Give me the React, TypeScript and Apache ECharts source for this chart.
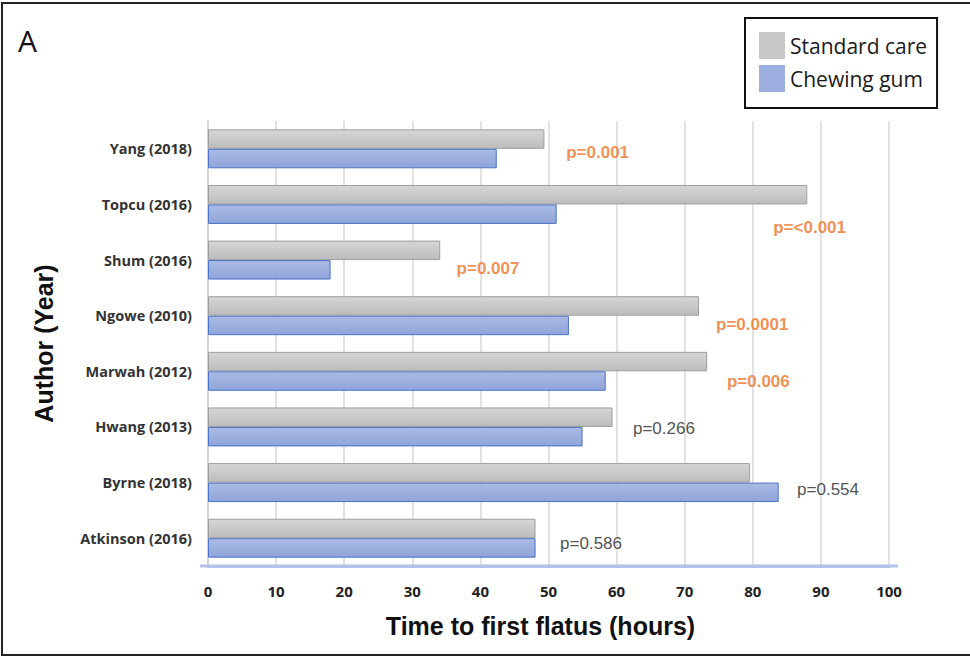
import React, { useEffect, useRef } from "react";
import * as echarts from "echarts";

const categories = [
  "Yang (2018)",
  "Topcu (2016)",
  "Shum (2016)",
  "Ngowe (2010)",
  "Marwah (2012)",
  "Hwang (2013)",
  "Byrne (2018)",
  "Atkinson (2016)",
];
const standardCare = [49.4, 88.0, 34.1, 72.1, 73.3, 59.4, 79.6, 48.1];
const chewingGum = [42.4, 51.2, 18.0, 53.0, 58.4, 55.0, 83.8, 48.1];
const pLabels = ["p=0.001", "p=<0.001", "p=0.007", "p=0.0001", "p=0.006", "p=0.266", "p=0.554", "p=0.586"];
const significant = [true, true, true, true, true, false, false, false];
// label anchor (x in hours) and vertical pixel offset — layout only
const labelX = [52.6, 83.0, 36.5, 74.6, 76.2, 62.4, 86.5, 51.7];
const labelDy = [4, 22.6, 8, 8.4, 10.5, 1.2, 6.6, 5];
const xTicks = [0, 10, 20, 30, 40, 50, 60, 70, 80, 90, 100];

const grayGrad = new echarts.graphic.LinearGradient(0, 0, 0, 1, [
  { offset: 0, color: "#d6d6d6" },
  { offset: 1, color: "#bcbcbc" },
]);
const blueGrad = new echarts.graphic.LinearGradient(0, 0, 0, 1, [
  { offset: 0, color: "#aabbe4" },
  { offset: 1, color: "#8fa4da" },
]);

export default function App() {
  const ref = useRef<HTMLDivElement>(null);
  useEffect(() => {
    if (!ref.current) return;
    const chart = echarts.init(ref.current, undefined, { renderer: "svg" });
    const option: any = {
      animation: false,
      backgroundColor: "#ffffff",
      textStyle: { fontFamily: "Open Sans" },
      title: {
        text: "A",
        left: 13,
        top: 20,
        textStyle: { fontSize: 30, fontWeight: "normal", color: "#111", fontFamily: "Open Sans" },
      },
      legend: {
        orient: "vertical",
        left: 745,
        top: 18,
        borderColor: "#111",
        borderWidth: 2,
        padding: [14, 10, 16, 14],
        itemWidth: 26,
        itemHeight: 27,
        itemGap: 6,
        textStyle: { fontSize: 21, color: "#1a1a1a", fontFamily: "Open Sans" },
        data: [
          { name: "Standard care", icon: "rect", itemStyle: { color: "#c8c8c8", borderWidth: 0 } },
          { name: "Chewing gum", icon: "rect", itemStyle: { color: "#9dafe0", borderWidth: 0 } },
        ],
      },
      graphic: [
        {
          type: "rect",
          shape: { x: 2, y: 3, width: 990, height: 652 },
          style: { fill: "none", stroke: "#222", lineWidth: 2 },
          silent: true,
        },
        {
          type: "line",
          shape: { x1: 200, y1: 566, x2: 898, y2: 566 },
          style: { stroke: "#b3c2e8", lineWidth: 3 },
          silent: true,
          z: 1,
        },
      ],
      grid: { left: 208, right: 81, top: 121, bottom: 91, containLabel: false },
      xAxis: {
        type: "value",
        min: 0,
        max: 100,
        interval: 10,
        name: "Time to first flatus (hours)",
        nameLocation: "middle",
        nameGap: 47,
        nameTextStyle: {
          fontSize: 25,
          fontWeight: "bold",
          color: "#111",
          fontFamily: "Liberation Sans",
          padding: [0, 16, 0, 0],
        },
        axisLine: { show: true, lineStyle: { color: "#b3c2e8", width: 3 } },
        axisTick: { show: false },
        axisLabel: {
          margin: 17,
          fontSize: 15,
          fontWeight: "bold",
          color: "#222",
          formatter: (v: number) => (xTicks.includes(v) ? String(v) : ""),
        },
        splitLine: { show: true, lineStyle: { color: "#d9d9d9", width: 1.5 } },
      },
      yAxis: {
        type: "category",
        data: categories,
        inverse: true,
        name: "Author (Year)",
        nameLocation: "middle",
        nameGap: 152,
        nameRotate: 90,
        nameTextStyle: { fontSize: 25, fontWeight: "bold", color: "#111", fontFamily: "Liberation Sans" },
        axisLine: { show: true, lineStyle: { color: "#d0d0d0", width: 1.5 } },
        axisTick: { show: false },
        axisLabel: { margin: 16, fontSize: 14.5, fontWeight: "bold", color: "#333" },
        splitLine: { show: false },
      },
      series: [
        {
          name: "Standard care",
          type: "bar",
          data: standardCare,
          barGap: "0%",
          barCategoryGap: "30%",
          itemStyle: { color: grayGrad, borderColor: "#9e9e9e", borderWidth: 1 },
        },
        {
          name: "Chewing gum",
          type: "bar",
          data: chewingGum,
          barGap: "0%",
          barCategoryGap: "30%",
          itemStyle: { color: blueGrad, borderColor: "#4a73c6", borderWidth: 1 },
        },
        {
          name: "p-values",
          type: "scatter",
          symbolSize: 0,
          silent: true,
          data: categories.map((c, i) => ({
            value: [labelX[i], i],
            label: {
              show: true,
              position: "right",
              distance: 0,
              offset: [0, labelDy[i]],
              formatter: pLabels[i],
              fontSize: 17,
              fontFamily: "Liberation Sans",
              fontWeight: significant[i] ? "bold" : "normal",
              color: significant[i] ? "#ec7428" : "#222",
            },
          })),
        },
      ],
    };
    chart.setOption(option);
    return () => chart.dispose();
  }, []);
  return (
    <div
      ref={ref}
      style={{ position: "absolute", left: 0, top: 0, width: 970, height: 657 }}
    />
  );
}
